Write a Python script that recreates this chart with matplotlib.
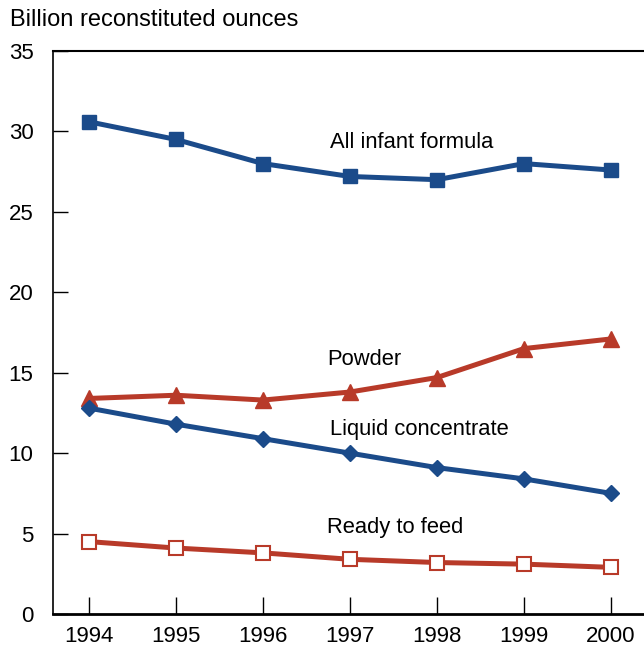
import numpy as np
import matplotlib.pyplot as plt

plt.rcParams['font.family'] = ['Liberation Sans', 'DejaVu Sans']

years = [1994, 1995, 1996, 1997, 1998, 1999, 2000]
all_formula = [30.6, 29.5, 28.0, 27.2, 27.0, 28.0, 27.6]
powder = [13.4, 13.6, 13.3, 13.8, 14.7, 16.5, 17.1]
liquid = [12.8, 11.8, 10.9, 10.0, 9.1, 8.4, 7.5]
ready = [4.5, 4.1, 3.8, 3.4, 3.2, 3.1, 2.9]

blue = '#1b4b8a'
red = '#b83a29'

fig = plt.figure(figsize=(6.44, 6.48), dpi=100)
ax = fig.add_axes([53/644, 34/648, 591/644, 563/648])

ax.plot(years, all_formula, color=blue, lw=3.6, marker='s', ms=10, zorder=3)
ax.plot(years, powder, color=red, lw=3.6, marker='^', ms=11, zorder=3)
ax.plot(years, liquid, color=blue, lw=3.6, marker='D', ms=8, zorder=3)
ax.plot(years, ready, color=red, lw=3.6, marker='s', ms=10,
        mfc='white', mec=red, mew=1.5, zorder=3)

ax.text(1996.77, 29.3, 'All infant formula', fontsize=15.8, va='center')
ax.text(1996.74, 15.8, 'Powder', fontsize=15.8, va='center')
ax.text(1996.77, 11.5, 'Liquid concentrate', fontsize=15.8, va='center')
ax.text(1996.74, 5.35, 'Ready to feed', fontsize=15.8, va='center')

ax.set_xlim(1993.586, 2000.38)
ax.set_ylim(0, 35)
ax.set_xticks(years)
ax.set_yticks(range(0, 36, 5))
ax.tick_params(axis='both', direction='in', labelsize=16, width=1)
ax.tick_params(axis='y', length=11, pad=14)
ax.tick_params(axis='x', length=12.5, pad=8.5)
ax.spines['right'].set_visible(False)
ax.spines['top'].set_linewidth(1.5)
ax.spines['bottom'].set_linewidth(2)
ax.spines['left'].set_linewidth(1.2)

fig.text(10/644, 1 - 20/648, 'Billion reconstituted ounces', fontsize=17, va='center')

plt.savefig('out.png')
